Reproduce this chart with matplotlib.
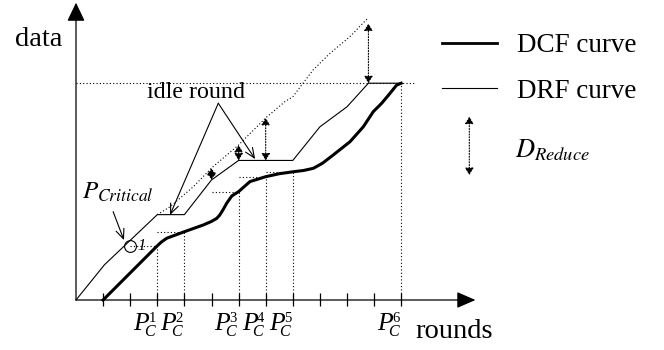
import matplotlib
matplotlib.use('Agg')
import matplotlib.pyplot as plt
from matplotlib.lines import Line2D

plt.rcParams['font.family'] = ['Liberation Serif', 'DejaVu Serif']
plt.rcParams['mathtext.fontset'] = 'stix'

# ── data (rounds / data units) ───────────────────────────────────────────── #
ticks = list(range(1, 13))
pc_rounds = [3, 4, 6, 7, 8, 12]
pc_index = ['1', '2', '3', '4', '5', '6']

dcf_x = [1, 3, 3.15, 3.35, 4, 4.7, 5.0, 5.19, 5.3, 5.42, 5.56, 5.75, 6, 6.42,
         7, 7.5, 8, 8.4, 8.76, 9.1, 9.49, 10.11, 10.6, 10.97, 11.28, 11.59,
         11.83, 12]
dcf_y = [0, 2.0, 2.14, 2.28, 2.52, 2.77, 2.9, 3.01, 3.13, 3.32, 3.57, 3.84,
         4.0, 4.37, 4.55, 4.66, 4.73, 4.78, 4.86, 5.05, 5.35, 5.84, 6.39,
         6.95, 7.26, 7.63, 7.93, 8.0]

drf_x = [0, 1.05, 3, 4, 5, 6, 8, 9, 10, 10.79, 12]
drf_y = [0, 1.3, 3.15, 3.15, 4.43, 5.15, 5.15, 6.39, 7.13, 8.0, 8.0]

upper_x = [3, 3.47, 4.33, 5, 6, 7, 7.71, 8, 8.75, 9.37, 10.11, 10.76]
upper_y = [3.15, 3.44, 4.18, 4.87, 5.72, 6.72, 7.32, 7.5, 8.49, 9.1, 9.72, 10.39]

reduce_x = [5, 6, 7, 10.79]
reduce_bottom = [4.43, 5.15, 5.15, 8.0]
reduce_top = [4.87, 5.72, 6.72, 10.2]

critical_x, critical_y = 2, 2.0

# ── layout ───────────────────────────────────────────────────────────────── #
W, H = 664, 350
U = 27.1            # px per unit
X0, Y0 = 76, 300    # origin (px)

fig = plt.figure(figsize=(W / 100, H / 100), dpi=100)
ax = fig.add_axes([0, 0, 1, 1])
ax.set_xlim(-X0 / U, (W - X0) / U)
ax.set_ylim((Y0 - H) / U, Y0 / U)
ax.axis('off')


def fp(x, y):
    """pixel (from top-left) -> figure fraction"""
    return x / W, 1 - y / H


dot = dict(color='k', lw=0.8, linestyle=(0, (1, 2)))
head2 = '<|-|>,head_length=0.42,head_width=0.26'
open_head = '->,head_length=0.7,head_width=0.3'

# axes with arrow heads
ax.annotate('', xy=(0, 10.97), xytext=(0, 0),
            arrowprops=dict(arrowstyle='-|>,head_length=1.15,head_width=0.55',
                            lw=0.9, color='k', shrinkA=0, shrinkB=0,
                            mutation_scale=10))
ax.annotate('', xy=(14.74, 0), xytext=(0, 0),
            arrowprops=dict(arrowstyle='-|>,head_length=1.15,head_width=0.5',
                            lw=0.9, color='k', shrinkA=0, shrinkB=0,
                            mutation_scale=10))
ax.vlines(ticks, -0.22, 0.26, color='k', lw=0.9)

# dotted guides at P_C points
for r in pc_rounds:
    yv = dcf_y[dcf_x.index(r)]
    ax.plot([r, r], [0, yv], **dot)
    if r == pc_rounds[-1]:
        ax.plot([0, r + 0.51], [yv, yv], **dot)
    else:
        ax.plot([r - 1, r], [yv, yv], **dot)

# curves
ax.plot(upper_x, upper_y, **dot)
ax.plot(drf_x, drf_y, color='k', lw=0.8)
ax.plot(dcf_x, dcf_y, color='k', lw=2.2, solid_joinstyle='round')

# D_Reduce arrows
for x, b, t in zip(reduce_x, reduce_bottom, reduce_top):
    ax.annotate('', xy=(x, t), xytext=(x, b),
                arrowprops=dict(arrowstyle=head2, lw=0.8, color='k',
                                linestyle=(0, (1, 1.5)), shrinkA=0, shrinkB=0,
                                mutation_scale=10))

# critical point
ax.plot([critical_x], [critical_y], marker='o', ms=8.5, mfc='none',
        mec='k', mew=0.8)
ax.text(critical_x + 0.28, critical_y, '1', fontsize=12, style='italic',
        ha='left', va='center')

# idle round arrows
apex = (5.25, 7.26)
for tip in [(3.47, 3.14), (6.61, 5.2)]:
    ax.annotate('', xy=tip, xytext=apex,
                arrowprops=dict(arrowstyle=open_head, lw=0.8, color='k',
                                shrinkA=0, shrinkB=0, mutation_scale=10))
ax.annotate('', xy=(1.77, 2.21), xytext=(1.37, 3.26),
            arrowprops=dict(arrowstyle=open_head, lw=0.8, color='k',
                            shrinkA=0, shrinkB=0, mutation_scale=10))

# texts
fig.text(*fp(15, 46), 'data', fontsize=20.5, ha='left', va='baseline')
fig.text(*fp(415, 337.5), 'rounds', fontsize=20.5, ha='left', va='baseline')
fig.text(*fp(147, 98), 'idle round', fontsize=17.3, ha='left', va='baseline')
fig.text(*fp(82, 199), r'$P_{Critical}$', fontsize=18, ha='left',
         va='baseline')

# P_C^k labels: P, subscript C and superscript k stacked
for r, k in zip(pc_rounds, pc_index):
    t = X0 + U * r
    fig.text(*fp(t - 24, 330), 'P', fontsize=18.5, style='italic',
             ha='left', va='baseline')
    fig.text(*fp(t - 13.5, 335.5), 'C', fontsize=11.5, style='italic',
             ha='left', va='baseline')
    fig.text(*fp(t - 9, 321.5), k, fontsize=10.5,
             ha='left', va='baseline')

# legend
ax.add_line(Line2D([441.7 / W, 496.7 / W], [1 - 42.7 / H] * 2,
                   transform=ax.transAxes, color='k', lw=2.0))
ax.add_line(Line2D([441.7 / W, 496.7 / W], [1 - 88.3 / H] * 2,
                   transform=ax.transAxes, color='k', lw=0.8))
ax.annotate('', xy=fp(469.3, 116.7), xytext=fp(469.3, 175),
            xycoords='axes fraction', textcoords='axes fraction',
            arrowprops=dict(arrowstyle=head2, lw=0.8, color='k',
                            linestyle=(0, (1, 1.5)), shrinkA=0, shrinkB=0,
                            mutation_scale=10))
fig.text(*fp(516.7, 52), 'DCF curve', fontsize=19.5, ha='left', va='baseline')
fig.text(*fp(516.7, 98.5), 'DRF curve', fontsize=19.5, ha='left', va='baseline')
fig.text(*fp(515, 157), r'$D_{Reduce}$', fontsize=19, ha='left', va='baseline')

fig.savefig('out.png', dpi=100)
